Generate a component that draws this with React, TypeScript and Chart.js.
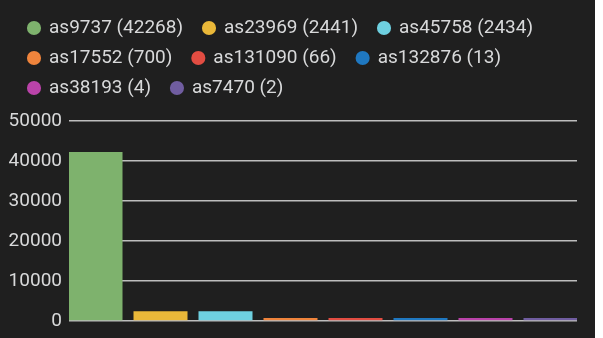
import React, { useEffect, useRef } from "react";
import { Chart, registerables } from "chart.js";

Chart.register(...registerables);

const asNames = ["as9737", "as23969", "as45758", "as17552", "as131090", "as132876", "as38193", "as7470"];
const counts = [42268, 2441, 2434, 700, 66, 13, 4, 2];
const colors = ["#7EB26D", "#EAB839", "#6ED0E0", "#EF843C", "#E24D42", "#1F78C1", "#BA43A9", "#705DA0"];
const categories = [""];
const yTicks = [0, 10000, 20000, 30000, 40000, 50000];

const TEXT = "#d8d9da";
const FONT = "Roboto, 'Liberation Sans', Arial, sans-serif";

export default function App() {
  const ref = useRef<HTMLCanvasElement | null>(null);

  useEffect(() => {
    if (!ref.current) return;
    const legendGap = {
      id: "legendGap",
      beforeInit(chart: any) {
        const legend = chart.legend;
        if (!legend) return;
        const orig = legend.fit;
        legend.fit = function () {
          orig.call(this);
          this.height += 13.5;
        };
      },
      afterLayout(chart: any) {
        if (chart.legend) chart.legend.left += 9.5;
      },
    };
    const chart = new Chart(ref.current, {
      type: "bar",
      data: {
        labels: categories,
        datasets: asNames.map((n, i) => ({
          label: `${n} (${counts[i]})`,
          data: [counts[i]],
          backgroundColor: colors[i],
          borderColor: colors[i],
          borderWidth: 0,
          minBarLength: 3,
          categoryPercentage: 1.0236,
          barPercentage: 0.831,
        })),
      },
      options: {
        animation: false,
        responsive: false,
        maintainAspectRatio: false,
        layout: { padding: { left: 8, top: 7.5, right: 18, bottom: 17 } },
        plugins: {
          tooltip: { enabled: false },
          legend: {
            display: true,
            position: "top",
            align: "start",
            labels: {
              color: TEXT,
              font: { family: FONT, size: 19 },
              usePointStyle: true,
              pointStyle: "circle",
              boxWidth: 11,
              boxHeight: 10,
              padding: 11,
              generateLabels(chart: any) {
                const base = Chart.defaults.plugins.legend.labels.generateLabels(chart);
                return base.map((l: any) => ({ ...l, text: l.text + "  ", lineWidth: 0 }));
              },
            },
          },
        },
        scales: {
          x: {
            display: false,
            grid: { display: false },
          },
          y: {
            min: 0,
            max: 50000,
            afterFit(scale: any) {
              scale.width = 61;
              scale.paddingTop = 0;
              scale.paddingBottom = 0;
            },
            afterBuildTicks(scale: any) {
              scale.ticks = yTicks.map((v) => ({ value: v }));
            },
            border: { display: false },
            grid: { color: "#bdbdbd", lineWidth: 1.5, drawTicks: false },
            ticks: {
              color: TEXT,
              padding: 7,
              font: { family: FONT, size: 19 },
              callback: (v: any) => String(v),
            },
          },
        },
      },
      plugins: [legendGap],
    });
    return () => chart.destroy();
  }, []);

  return (
    <div
      style={{
        position: "fixed",
        left: 0,
        top: 0,
        width: 595,
        height: 338,
        background: "#1f1f1f",
      }}
    >
      <canvas ref={ref} width={595} height={338} style={{ display: "block" }} />
    </div>
  );
}
